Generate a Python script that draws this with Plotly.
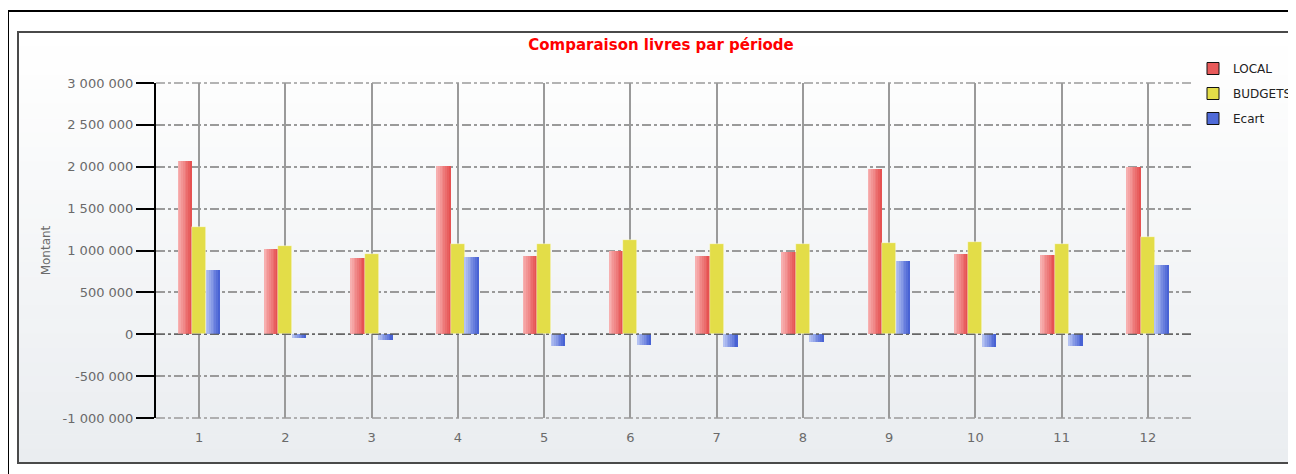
import plotly.graph_objects as go

# ---------------- data ----------------
periods = [1, 2, 3, 4, 5, 6, 7, 8, 9, 10, 11, 12]
local_vals = [2064000, 1020000, 916000, 2012000, 932000, 1000000, 932000, 984000, 1972000, 964000, 948000, 1996000]
budget_vals = [1279000, 1052000, 964000, 1072000, 1072000, 1124000, 1072000, 1072000, 1084000, 1104000, 1072000, 1156000]
ecart_vals = [773000, -44000, -64000, 928000, -140000, -128000, -148000, -96000, 876000, -151000, -135000, 825000]
series_names = ["LOCAL", "BUDGETS", "Ecart"]
y_tick_vals = [-1000000, -500000, 0, 500000, 1000000, 1500000, 2000000, 2500000, 3000000]
y_tick_text = ["-1 000 000", "-500 000", "0", "500 000", "1 000 000", "1 500 000",
               "2 000 000", "2 500 000", "3 000 000"]

# ---------------- layout geometry ----------------
# the page body adds an 8px offset; work in page pixels and convert
OFF = 8
W, H = 1288, 466
ML, MR, MT, MB = 156 - OFF, 105, 83 - OFF, 56
PW, PH = W - ML - MR, H - MT - MB


def px_x(p):  # page pixel -> paper x
    return (p - OFF - ML) / PW


def px_y(p):  # page pixel -> paper y
    return (H - MB - (p - OFF)) / PH


def hex2rgb(h):
    h = h.lstrip("#")
    return tuple(int(h[i:i + 2], 16) for i in (0, 2, 4))


def mix(c1, c2, t):
    a, b = hex2rgb(c1), hex2rgb(c2)
    return "rgb(%d,%d,%d)" % tuple(round(a[i] + (b[i] - a[i]) * t) for i in range(3))


fig = go.Figure()

bar_w = 0.1625
N = 8
specs = [
    ("LOCAL", local_vals, "#f7b0b0", "#e65252", -1.5 * bar_w, True),
    ("BUDGETS", budget_vals, "#e3dd48", "#e3dd48", -0.5 * bar_w, False),
    ("Ecart", ecart_vals, "#b4c2f2", "#4862d4", 0.5 * bar_w, True),
]
legend_cols = {"LOCAL": "#e85a5a", "BUDGETS": "#e3dd48", "Ecart": "#4f6ad8"}

for name, vals, c_left, c_right, off, grad in specs:
    if grad:
        sw = bar_w / N
        for i in range(N):
            fig.add_trace(go.Bar(
                x=periods, y=vals, width=sw * 1.02, offset=off + i * sw,
                marker=dict(color=mix(c_left, c_right, i / (N - 1)), line=dict(width=0)),
                legendgroup=name, showlegend=False, name=name, hoverinfo="y",
            ))
    else:
        fig.add_trace(go.Bar(
            x=periods, y=vals, width=bar_w, offset=off,
            marker=dict(color=c_left, line=dict(width=0.6, color="rgba(255,255,255,0.7)")),
            legendgroup=name, showlegend=False, name=name, hoverinfo="y",
        ))
    # legend entry
    fig.add_trace(go.Bar(
        x=[None], y=[None], name=name, legendgroup=name,
        marker=dict(color=legend_cols[name], line=dict(width=1, color="#111")),
    ))

shapes = []
# outer black frame
shapes.append(dict(type="rect", xref="paper", yref="paper",
                   x0=px_x(8), x1=px_x(1320), y0=px_y(500), y1=px_y(11),
                   line=dict(color="#000", width=2), fillcolor="#ffffff", layer="below"))
# panel gradient
top, bot = 32, 463
nb = 30
for i in range(nb):
    y0 = top + (bot - top) * i / nb
    y1 = top + (bot - top) * (i + 1) / nb
    shapes.append(dict(type="rect", xref="paper", yref="paper",
                       x0=px_x(18), x1=px_x(1320), y0=px_y(y1 + 0.5), y1=px_y(y0),
                       line=dict(width=0), fillcolor=mix("#ffffff", "#eaedf0", i / (nb - 1)),
                       layer="below"))
shapes.append(dict(type="rect", xref="paper", yref="paper",
                   x0=px_x(18), x1=px_x(1320), y0=px_y(bot), y1=px_y(top),
                   line=dict(color="#4a4a4a", width=2), fillcolor="rgba(0,0,0,0)", layer="below"))
# top and bottom edge grid lines (dash-dot like the others)
for yy in (0, 1):
    shapes.append(dict(type="line", xref="paper", yref="paper", x0=0, x1=1, y0=yy, y1=yy,
                       line=dict(color="#9a9a9a", width=1.5, dash="dashdot"), layer="below"))
# zero line (dash-dot, dark)
shapes.append(dict(type="line", xref="paper", yref="y", x0=0, x1=1, y0=0, y1=0,
                   line=dict(color="#555", width=1.2, dash="dashdot"), layer="above"))

fig.update_layout(
    width=W, height=H,
    margin=dict(l=ML, r=MR, t=MT, b=MB, autoexpand=False),
    paper_bgcolor="#ffffff", plot_bgcolor="rgba(0,0,0,0)",
    barmode="overlay", bargap=0,
    separators=", ",
    title=dict(text="<b>Comparaison livres par période</b>", x=(661 - OFF) / W,
               xanchor="center", y=1 - (45 - OFF) / H, yanchor="middle",
               font=dict(family="DejaVu Sans", size=15, color="#ff0000")),
    font=dict(family="DejaVu Sans", size=13, color="#6a6a6a"),
    legend=dict(x=px_x(1193), y=px_y(54), xanchor="left", yanchor="top",
                bgcolor="rgba(0,0,0,0)", font=dict(family="DejaVu Sans", size=12, color="#222"),
                tracegroupgap=6, itemwidth=30),
    shapes=shapes,
    xaxis=dict(range=[0.5, 12.5], tickvals=periods, ticktext=[str(p) for p in periods],
               showgrid=True, gridcolor="#9a9a9a", gridwidth=1.5,
               showline=False, ticks="", zeroline=False, ticklabelstandoff=10,
               tickfont=dict(size=13, color="#6a6a6a")),
    yaxis=dict(range=[-1000000, 3000000], tickvals=y_tick_vals, ticktext=y_tick_text,
               showgrid=True, gridcolor="#9a9a9a", gridwidth=1.5, griddash="dashdot",
               zeroline=False, showline=True, linecolor="#000", linewidth=2,
               ticks="outside", ticklen=18, tickwidth=2, tickcolor="#000",
               tickfont=dict(size=13, color="#6a6a6a"),
               title=dict(text="Montant", standoff=9, font=dict(size=12, color="#6a6a6a"))),
)

fig.write_html("out.html")
